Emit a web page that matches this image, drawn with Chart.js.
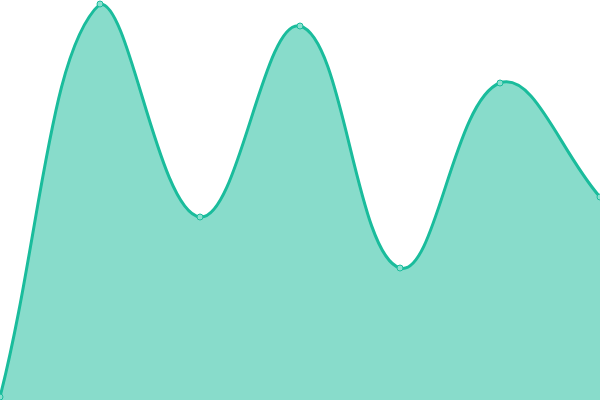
<!DOCTYPE html>
<html><head><meta charset="utf-8">
<script src="https://cdn.jsdelivr.net/npm/chart.js@4"></script>
<style>html,body{margin:0;padding:0;background:#fff}#w{width:600px;height:400px}</style>
</head><body><div id="w"><canvas id="c"></canvas></div>
<script>
const categories = ["A","B","C","D","E","F","G"];
const values = [0.75, 99, 45.75, 93.5, 33, 79.25, 50.75];
new Chart(document.getElementById('c'), {
  type: 'line',
  data: { labels: categories, datasets: [{
    data: values,
    fill: true,
    backgroundColor: 'rgba(26,188,156,0.52)',
    borderColor: '#1abc9c',
    borderWidth: 3,
    tension: 0.4,
    pointRadius: 3,
    pointBorderWidth: 1,
    pointBackgroundColor: '#8ae0cf',
    pointBorderColor: '#1abc9c'
  }]},
  options: {
    responsive: true, maintainAspectRatio: false, animation: false,
    layout: { padding: 0, autoPadding: false },
    plugins: { legend: { display: false }, tooltip: { enabled: false } },
    scales: {
      x: { display: false, offset: false },
      y: { display: false, min: 0, max: 100 }
    }
  }
});
</script></body></html>
